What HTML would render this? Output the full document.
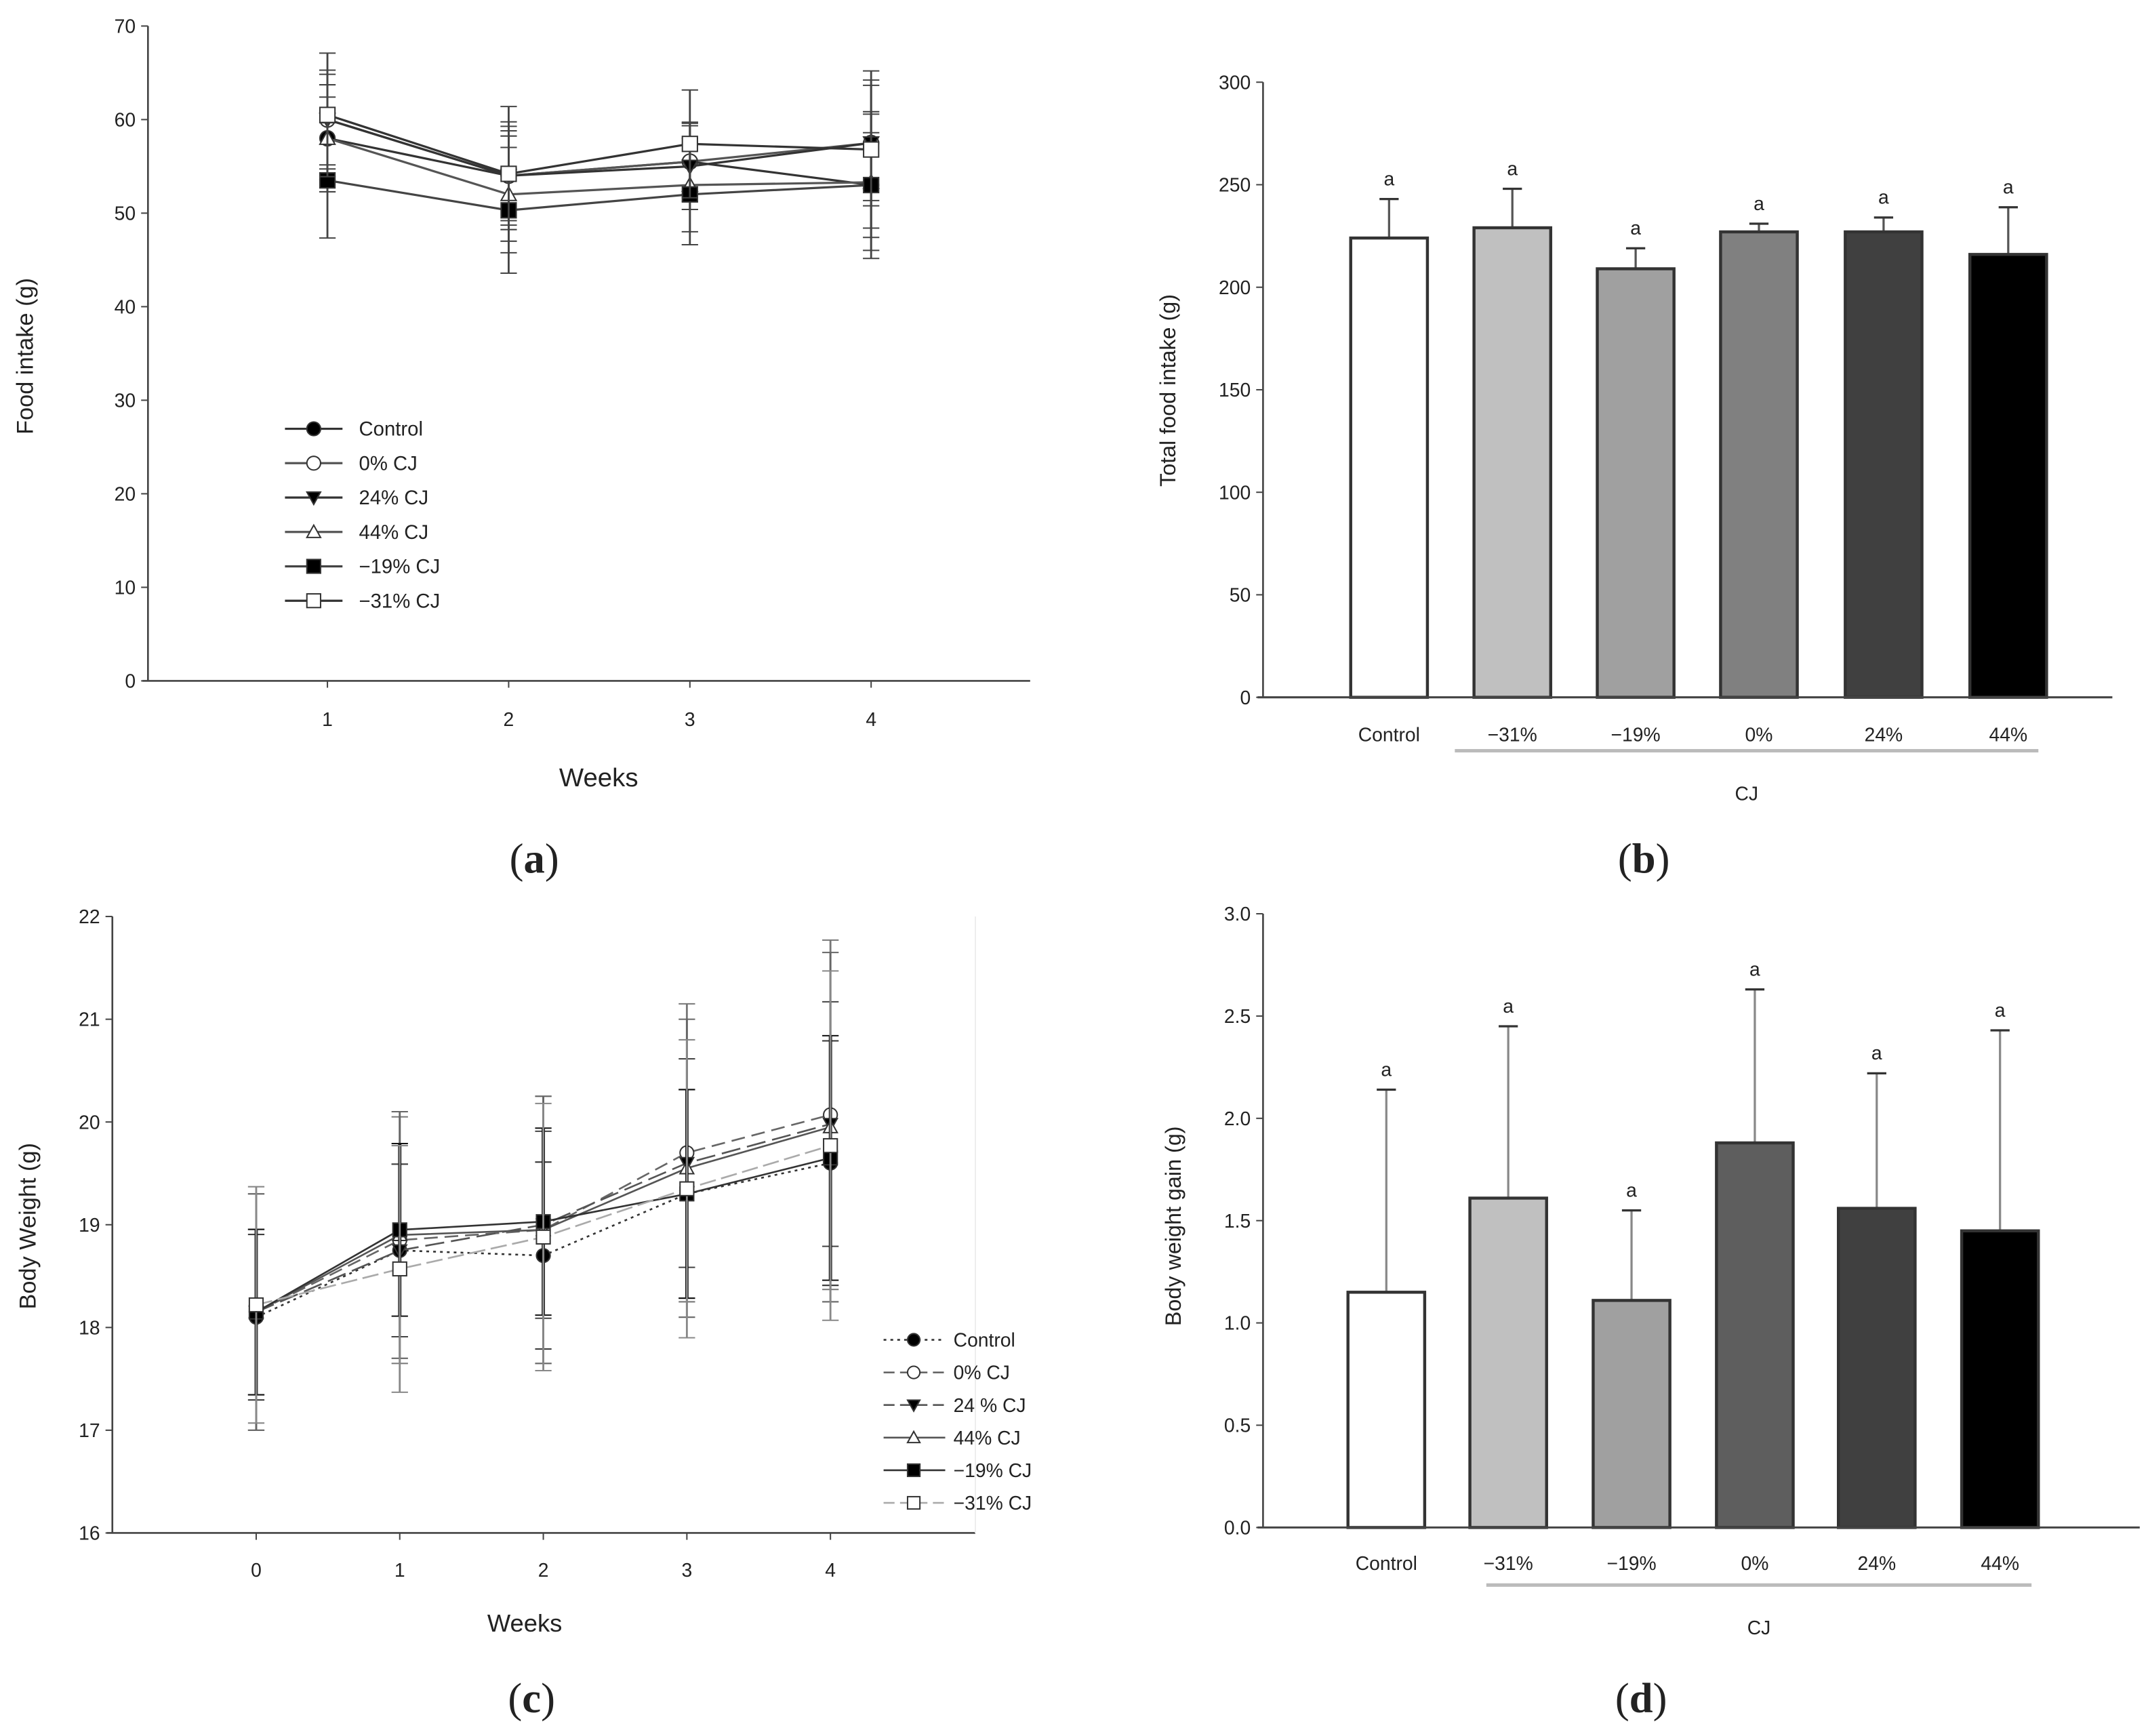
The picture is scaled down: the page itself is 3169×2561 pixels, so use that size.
<!DOCTYPE html>
<html><head><meta charset="utf-8"><style>
html,body{margin:0;padding:0;background:#fff;}
svg{display:block;}
text{font-family:"Liberation Sans",sans-serif;fill:#222;}
.pl{font-family:"Liberation Serif",serif;font-size:31px;}
</style></head><body>
<svg id="fig" width="3169" height="2561" viewBox="0 0 1568 1267.2" xmlns="http://www.w3.org/2000/svg">
<text class="pl" x="390" y="637" text-anchor="middle">(<tspan font-weight="bold">a</tspan>)</text>
<text class="pl" x="1200" y="637" text-anchor="middle">(<tspan font-weight="bold">b</tspan>)</text>
<text class="pl" x="388" y="1250" text-anchor="middle">(<tspan font-weight="bold">c</tspan>)</text>
<text class="pl" x="1198" y="1250" text-anchor="middle">(<tspan font-weight="bold">d</tspan>)</text>
</svg>
<script>
const NS="http://www.w3.org/2000/svg";
const fig=document.getElementById('fig');
function mk(tag,attrs,parent){const e=document.createElementNS(NS,tag);for(const k in attrs)e.setAttribute(k,attrs[k]);(parent||fig).appendChild(e);return e;}
function tx(str,x,y,attrs,parent){const e=mk('text',Object.assign({x:x,y:y},attrs||{}),parent);e.textContent=str;return e;}

// ---------- Panel A data ----------
const weeksA=[1,2,3,4];
const seriesNames=["Control","0% CJ","24% CJ","44% CJ","\u221219% CJ","\u221231% CJ"];
const aControl=[58,54,55.5,53];
const a0=[60,54,55.5,57.5];
const a24=[60,54,55,57.5];
const a44=[58,52,53,53.3];
const aM19=[53.5,50.3,52,53];
const aM31=[60.5,54.2,57.4,56.8];
const aErr=[5.5,6,4.8,7];
const yTicksA=[0,10,20,30,40,50,60,70];

// ---------- Panel B data ----------
const catsB=["Control","\u221231%","\u221219%","0%","24%","44%"];
const valsB=[224,229,209,227,227,216];
const errB=[19,19,10,4,7,23];
const yTicksB=[0,50,100,150,200,250,300];

// ---------- Panel C data ----------
const weeksC=[0,1,2,3,4];
const cControl=[18.1,18.75,18.7,19.3,19.6];
const c0=[18.15,18.85,18.95,19.7,20.07];
const c24=[18.15,18.75,19.0,19.6,19.98];
const c44=[18.15,18.9,18.95,19.55,19.95];
const cM19=[18.15,18.95,19.03,19.3,19.65];
const cM31=[18.22,18.57,18.88,19.35,19.77];
const cErr=[1.15,1.2,1.3,1.45,1.7];
const yTicksC=[16,17,18,19,20,21,22];

// ---------- Panel D data ----------
const catsD=["Control","\u221231%","\u221219%","0%","24%","44%"];
const valsD=[1.15,1.61,1.11,1.88,1.56,1.45];
const errD=[0.99,0.84,0.44,0.75,0.66,0.98];
const yTicksD=[0,0.5,1.0,1.5,2.0,2.5,3.0];

const markers=["dot","circle","tri-down","tri-up","square","open-square"];
function marker(g,type,x,y,s,fillOpen){
  let e;
  const filled=(type==="dot"||type==="tri-down"||type==="square");
  const f=filled?"#000":"#fff";
  if(type==="dot"||type==="circle") e=mk('circle',{cx:x,cy:y,r:s,fill:f,stroke:"#333","stroke-width":1},g);
  else if(type==="square"||type==="open-square") e=mk('rect',{x:x-s,y:y-s,width:2*s,height:2*s,fill:f,stroke:"#333","stroke-width":1},g);
  else if(type==="tri-down") e=mk('polygon',{points:`${x-s},${y-s*0.8} ${x+s},${y-s*0.8} ${x},${y+s}`,fill:f,stroke:"#333","stroke-width":1},g);
  else e=mk('polygon',{points:`${x-s},${y+s*0.8} ${x+s},${y+s*0.8} ${x},${y-s}`,fill:f,stroke:"#333","stroke-width":1},g);
  return e;
}

// ===== Panel A =====
(function(){
  const g=mk('g',{});
  
  
  const X0=108,Y0=497,Ytop=19,ymax=70;
  const yS=v=>Y0-(v/ymax)*(Y0-Ytop);
  const xS=w=>239+(w-1)*132.3;
  mk('line',{x1:X0,y1:Ytop,x2:X0,y2:Y0,stroke:"#444","stroke-width":1.3},g);
  mk('line',{x1:X0-4,y1:Y0,x2:752,y2:Y0,stroke:"#444","stroke-width":1.3},g);
  yTicksA.forEach(t=>{const y=yS(t);mk('line',{x1:X0-5,y1:y,x2:X0,y2:y,stroke:"#444"},g);
    const l=tx(String(t),X0-9,y+5,{"text-anchor":"end","font-size":14},g);
    
    });
  weeksA.forEach(w=>{const x=xS(w);mk('line',{x1:x,y1:Y0,x2:x,y2:Y0+5,stroke:"#444"},g);
    const l=tx(String(w),x,Y0+33,{"text-anchor":"middle","font-size":14},g);
    
    });
  const xt=tx("Weeks",437,574,{"text-anchor":"middle","font-size":19},g);
  
  
  const yt=tx("Food intake (g)",0,0,{"text-anchor":"middle","font-size":17,transform:"translate(24,260) rotate(-90)"},g);
  
  
  const all=[aControl,a0,a24,a44,aM19,aM31];
  const cols=["#333","#555","#333","#555","#444","#333"];
  all.forEach((s,i)=>{
    const sg=mk('g',{},g);
    
    
    s.forEach((v,j)=>{const x=xS(weeksA[j]);const e=aErr[j]*(0.8+0.08*i);
      mk('line',{x1:x,y1:yS(v-e),x2:x,y2:yS(v+e),stroke:"#444","stroke-width":1.4},sg);
      mk('line',{x1:x-6,y1:yS(v-e),x2:x+6,y2:yS(v-e),stroke:"#444"},sg);
      mk('line',{x1:x-6,y1:yS(v+e),x2:x+6,y2:yS(v+e),stroke:"#444"},sg);});
    mk('polyline',{points:s.map((v,j)=>xS(weeksA[j])+","+yS(v)).join(" "),fill:"none",stroke:cols[i],"stroke-width":1.6},sg);
    s.forEach((v,j)=>marker(sg,markers[i],xS(weeksA[j]),yS(v),5.5));
  });
  seriesNames.forEach((n,i)=>{const y=313+i*25.1;
    const lg=mk('g',{},g);
    
    
    mk('line',{x1:208,y1:y,x2:250,y2:y,stroke:cols[i],"stroke-width":1.6},lg);
    marker(lg,markers[i],229,y,5);
    tx(n,262,y+5,{"font-size":14.5},lg);});
})();

// ===== Bar chart helper =====
function barChart(name,cats,vals,errs,ticks,opts){
  const g=mk('g',{});
  
  
  const {X0,Y0,Ytop,ymax,xEnd,centers,fills,fmt,ytitle,ytx,yty,uline,labY,cjY,errStroke}=opts;
  const yS=v=>Y0-(v/ymax)*(Y0-Ytop);
  mk('line',{x1:X0,y1:Ytop,x2:X0,y2:Y0,stroke:"#444","stroke-width":1.3},g);
  ticks.forEach(t=>{const y=yS(t);mk('line',{x1:X0-5,y1:y,x2:X0,y2:y,stroke:"#444"},g);
    const l=tx(fmt(t),X0-9,y+5,{"text-anchor":"end","font-size":14},g);
    
    });
  vals.forEach((v,i)=>{const cx=centers[i];const w=56;
    const top=yS(v+errs[i]);
    mk('line',{x1:cx,y1:yS(v),x2:cx,y2:top,stroke:errStroke,"stroke-width":1.6},g);
    mk('line',{x1:cx-7,y1:top,x2:cx+7,y2:top,stroke:"#333","stroke-width":1.6},g);
    const b=mk('rect',{x:cx-w/2,y:yS(v),width:w,height:Y0-yS(v),fill:fills[i],stroke:"#333","stroke-width":2.2},g);
    
    
    const a=tx("a",cx,top-10,{"text-anchor":"middle","font-size":14},g);
    
    
    const l=tx(cats[i],cx,labY,{"text-anchor":"middle","font-size":14},g);
    
    
  });
  mk('line',{x1:X0-4,y1:Y0,x2:xEnd,y2:Y0,stroke:"#444","stroke-width":1.5},g);
  mk('line',{x1:uline[0],y1:uline[2],x2:uline[1],y2:uline[2],stroke:"#bbb","stroke-width":2.5},g);
  const c=tx("CJ",(uline[0]+uline[1])/2,cjY,{"text-anchor":"middle","font-size":14},g);
  
  
  const yt=tx(ytitle,0,0,{"text-anchor":"middle","font-size":16,transform:`translate(${ytx},${yty}) rotate(-90)`},g);
  
  
}
barChart('total-food-intake-chart',catsB,valsB,errB,yTicksB,{X0:922,Y0:509,Ytop:60,ymax:300,xEnd:1542,
  centers:[1014,1104,1194,1284,1375,1466],fills:["#fff","#c0c0c0","#a0a0a0","#808080","#404040","#000"],
  fmt:t=>String(t),ytitle:"Total food intake (g)",ytx:858,yty:285,uline:[1062,1488,548],labY:541,cjY:584,errStroke:"#555"});
barChart('body-weight-gain-chart',catsD,valsD,errD,yTicksD,{X0:922,Y0:1115,Ytop:667,ymax:3,xEnd:1562,
  centers:[1012,1101,1191,1281,1370,1460],fills:["#fff","#c0c0c0","#a0a0a0","#5e5e5e","#404040","#000"],
  fmt:t=>t.toFixed(1),ytitle:"Body weight gain (g)",ytx:862,yty:895,uline:[1085,1483,1157],labY:1146,cjY:1193,errStroke:"#888"});

// ===== Panel C =====
(function(){
  const g=mk('g',{});
  
  
  const X0=82,Y0=1119,Ytop=669,ymin=16,ymax=22;
  const yS=v=>Y0-((v-ymin)/(ymax-ymin))*(Y0-Ytop);
  const xS=w=>187+w*104.8;
  mk('line',{x1:X0,y1:Ytop,x2:X0,y2:Y0,stroke:"#444","stroke-width":1.3},g);
  mk('line',{x1:X0-4,y1:Y0,x2:712,y2:Y0,stroke:"#444","stroke-width":1.3},g);
  mk('line',{x1:712,y1:Ytop,x2:712,y2:Y0,stroke:"#eee","stroke-width":1},g);
  yTicksC.forEach(t=>{const y=yS(t);mk('line',{x1:X0-5,y1:y,x2:X0,y2:y,stroke:"#444"},g);
    const l=tx(String(t),X0-9,y+5,{"text-anchor":"end","font-size":14},g);
    
    });
  weeksC.forEach(w=>{const x=xS(w);mk('line',{x1:x,y1:Y0,x2:x,y2:Y0+5,stroke:"#444"},g);
    const l=tx(String(w),x,Y0+32,{"text-anchor":"middle","font-size":14},g);
    
    });
  const xt=tx("Weeks",383,1191,{"text-anchor":"middle","font-size":18},g);
  
  
  const yt=tx("Body Weight (g)",0,0,{"text-anchor":"middle","font-size":17,transform:"translate(26,895) rotate(-90)"},g);
  
  
  const namesC=["Control","0% CJ","24 % CJ","44% CJ","\u221219% CJ","\u221231% CJ"];
  const all=[cControl,c0,c24,c44,cM19,cM31];
  const dashes=["2,3","10,5","14,5","none","none","12,4"];
  const cols=["#333","#666","#555","#555","#333","#aaa"];
  const errCols=["#333","#777","#444","#666","#111","#888"];
  all.forEach((s,i)=>{
    const sg=mk('g',{},g);
    
    
    s.forEach((v,j)=>{const x=xS(weeksC[j]);const e=cErr[j]*(0.7+0.1*((i*3)%6));
      mk('line',{x1:x,y1:yS(v-e),x2:x,y2:yS(v+e),stroke:errCols[i],"stroke-width":i===4?2.4:1.4},sg);
      mk('line',{x1:x-6,y1:yS(v-e),x2:x+6,y2:yS(v-e),stroke:errCols[i]},sg);
      mk('line',{x1:x-6,y1:yS(v+e),x2:x+6,y2:yS(v+e),stroke:errCols[i]},sg);});
    const pl=mk('polyline',{points:s.map((v,j)=>xS(weeksC[j])+","+yS(v)).join(" "),fill:"none",stroke:cols[i],"stroke-width":1.3},sg);
    if(dashes[i]!=="none")pl.setAttribute('stroke-dasharray',dashes[i]);
    s.forEach((v,j)=>marker(sg,markers[i],xS(weeksC[j]),yS(v),5));
  });
  namesC.forEach((n,i)=>{const y=978+i*23.8;
    const lg=mk('g',{},g);
    
    
    const l=mk('line',{x1:645,y1:y,x2:690,y2:y,stroke:cols[i],"stroke-width":1.3},lg);
    if(dashes[i]!=="none")l.setAttribute('stroke-dasharray',dashes[i]==="2,3"?"2,3":"8,4");
    marker(lg,markers[i],667,y,4.5);
    tx(n,696,y+5,{"font-size":14},lg);});
})();
</script>
</body></html>
